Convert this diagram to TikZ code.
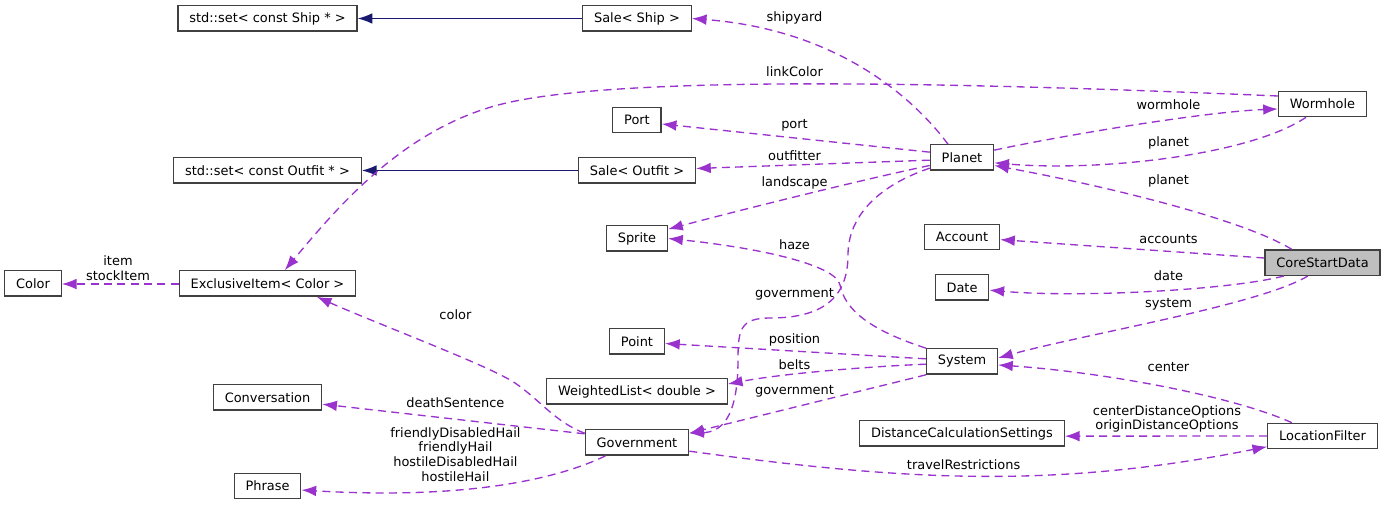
\documentclass[tikz,border=0pt]{standalone}
\usepackage{fontspec}
\setmainfont{DejaVu Sans}
\usetikzlibrary{arrows.meta}
\definecolor{usage}{HTML}{9A32CD}
\definecolor{inh}{HTML}{191970}
\definecolor{frame}{HTML}{404040}
\definecolor{current}{HTML}{BFBFBF}
\tikzstyle{block} = [rectangle, draw=frame, fill=white, line width=1pt, inner xsep=8.5pt, inner ysep=0pt, minimum height=19pt, font=\fontsize{9.7}{11}\selectfont]
\tikzstyle{line} = [draw=usage, dash pattern=on 6pt off 4pt, line width=1pt, -{Latex[length=11pt,width=8pt,fill=usage]}]
\tikzstyle{inherit} = [draw=inh, line width=1pt, -{Latex[length=11pt,width=8pt,fill=inh]}]
\tikzstyle{lbl} = [inner sep=0pt, align=center, font=\fontsize{9.7}{11}\selectfont]

\begin{document}
\begin{tikzpicture}[x=0.75pt, y=-0.75pt]
\useasboundingbox (0,0) rectangle (1385,505);
% classes
\node [block] (setship) at (267.5,18.5) {std::set< const Ship * >};
\node [block, node distance=277.1pt, right of=setship] (saleship) {Sale< Ship >};
\node [block, node distance=76.1pt, below of=saleship] (port) {Port};
\node [block, node distance=37.9pt, below of=port] (saleoutfit) {Sale< Outfit >};
\node [block, node distance=51pt, below of=saleoutfit] (sprite) {Sprite};
\node [block, node distance=77.25pt, below of=sprite] (point) {Point};
\node [block, node distance=37.5pt, below of=point] (wlist) {WeightedList< double >};
\node [block, node distance=38.25pt, below of=wlist] (government) {Government};
\node [block, node distance=114pt, below of=setship] (setoutfit) {std::set< const Outfit * >};
\node [block, node distance=84.75pt, below of=setoutfit] (exclusive) {ExclusiveItem< Color >};
\node [block, node distance=175.9pt, left of=exclusive] (color) {Color};
\node [block, node distance=85.5pt, below of=exclusive] (conversation) {Conversation};
\node [block, node distance=66.4pt, below of=conversation] (phrase) {Phrase};
\node [block] (planet) at (962,157.5) {Planet};
\node [block, node distance=59.6pt, below of=planet] (account) {Account};
\node [block, node distance=37.9pt, below of=account] (date) {Date};
\node [block, node distance=55.5pt, below of=date] (system) {System};
\node [block, node distance=54pt, below of=system] (dcs) {DistanceCalculationSettings};
\node [block] (wormhole) at (1322.5,104) {Wormhole};
\node [block, fill=current, node distance=119pt, below of=wormhole] (corestart) {CoreStartData};
\node [block, node distance=130pt, below of=corestart] (locfilter) {LocationFilter};
% inheritance
\path [inherit] (saleship) -- (setship);
\path [inherit] (saleoutfit) -- (setoutfit);
% usage
\path [line] ([xshift=-10.5pt]planet.north) .. controls (915,100) and (840,30) .. (saleship.east);
\path [line] ([yshift=-4pt]wormhole.north west) .. controls (950,82) and (600,74) .. (491,107) .. controls (401,134) and (340,204) .. ([xshift=13pt]exclusive.north);
\path [line] ([yshift=4pt]planet.west) -- ([yshift=-3pt]port.east);
\path [line] ([yshift=-2pt]planet.west) -- ([yshift=1.5pt]saleoutfit.east);
\path [line] ([yshift=-6pt]planet.west) .. controls (870,178) and (760,205) .. ([yshift=7pt]sprite.east);
\path [line] ([yshift=2pt]planet.south west) .. controls (880,185) and (848,215) .. (848,255) .. controls (848,300) and (820,318) .. (770,318) .. controls (740,318) and (738,330) .. (738,360) .. controls (738,420) and (720,432) .. ([yshift=7pt]government.east);
\path [line] ([yshift=5.5pt]planet.east) .. controls (1050,138) and (1200,112) .. ([yshift=-3.75pt]wormhole.west);
\path [line] ([xshift=-12.4pt]wormhole.south) .. controls (1250,155) and (1100,172) .. ([yshift=-4pt]planet.east);
\path [line] ([xshift=-23pt]corestart.north) .. controls (1240,218) and (1100,185) .. ([yshift=-6pt]planet.east);
\path [line] ([yshift=3.5pt]corestart.west) -- ([yshift=-2pt]account.east);
\path [line] ([xshift=-29pt]corestart.south) .. controls (1230,290) and (1080,298) .. ([yshift=-2pt]date.east);
\path [line] ([xshift=-11pt]corestart.south) .. controls (1260,305) and (1080,335) .. ([yshift=2.6pt]system.east);
\path [line] (system.north west) .. controls (870,330) and (845,310) .. (840,285) .. controls (836,265) and (760,248) .. (sprite.east);
\path [line] ([yshift=2pt]system.west) -- ([yshift=-1.5pt]point.east);
\path [line] ([yshift=-2pt]system.west) .. controls (860,367) and (780,374) .. ([yshift=5.6pt]wlist.east);
\path [line] (system.south west) -- ([yshift=7pt]government.east);
\path [line] ([xshift=-23pt]locfilter.north) .. controls (1230,395) and (1100,372) .. ([yshift=-2.6pt]system.east);
\path [line] (locfilter.west) -- ([yshift=-2pt]dcs.east);
\path [line] ([yshift=-6.5pt]government.east) .. controls (900,480) and (1050,490) .. ([yshift=-8pt]locfilter.west);
\path [line] ([yshift=-3pt]government.north west) .. controls (555,422) and (540,400) .. (515,383) .. controls (490,366) and (380,325) .. ([xshift=37pt]exclusive.south);
\path [line] ([yshift=6.5pt]government.west) -- ([yshift=-5pt]conversation.east);
\path [line] ([xshift=-23.6pt]government.south) .. controls (560,478) and (470,500) .. ([yshift=-3pt]phrase.east);
\path [line] ([yshift=-0.4pt]exclusive.west) -- ([yshift=-0.4pt]color.east);
% member names
\node [lbl] (lshipyard) at (794.5,18.3) {shipyard};
\node [lbl] (llinkcolor) at (794.5,71.7) {linkColor};
\node [lbl] (lport) at (794.5,125) {port};
\node [lbl] (loutfitter) at (794.5,155.7) {outfitter};
\node [lbl] (llandscape) at (794.5,183.3) {landscape};
\node [lbl] (lhaze) at (794.5,245) {haze};
\node [lbl] (lgovplanet) at (794.5,294.7) {government};
\node [lbl] (lposition) at (794.5,340) {position};
\node [lbl] (lbelts) at (794.5,364.3) {belts};
\node [lbl] (lgovsystem) at (794.5,391.7) {government};
\node [lbl] (lwormhole) at (1168.5,104.3) {wormhole};
\node [lbl] (lplanetw) at (1168.5,142.7) {planet};
\node [lbl] (lplanetc) at (1168.5,180.7) {planet};
\node [lbl] (laccounts) at (1168.5,239) {accounts};
\node [lbl] (ldate) at (1168.5,275.7) {date};
\node [lbl] (lsystem) at (1168.5,304.3) {system};
\node [lbl] (lcenter) at (1168.5,366.7) {center};
\node [lbl] (ldistance) at (1167,419) {centerDistanceOptions\\originDistanceOptions};
\node [lbl] (ltravel) at (963.6,464.3) {travelRestrictions};
\node [lbl] (lcolor) at (455.4,314.3) {color};
\node [lbl] (ldeath) at (455.4,402.7) {deathSentence};
\node [lbl] (lhail) at (455.4,454.5) {friendlyDisabledHail\\friendlyHail\\hostileDisabledHail\\hostileHail};
\node [lbl] (litem) at (118,268) {item\\stockItem};
\end{tikzpicture}
\end{document}
